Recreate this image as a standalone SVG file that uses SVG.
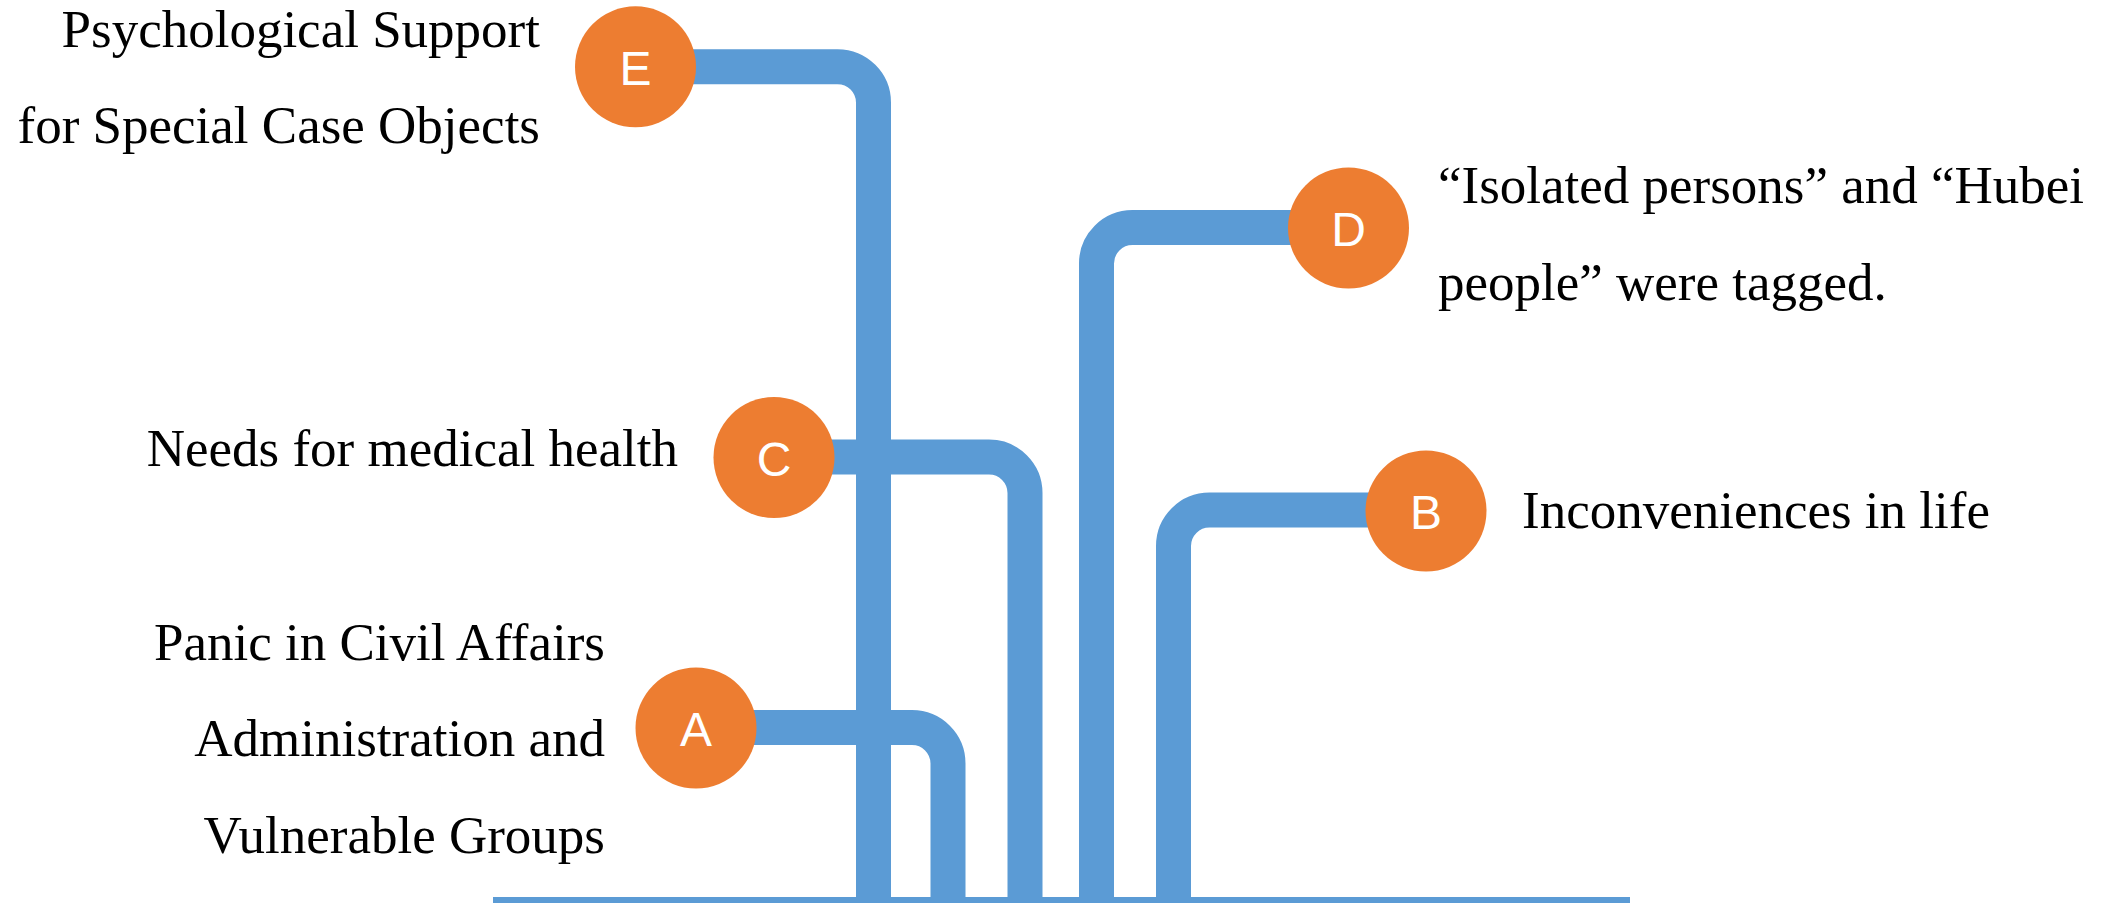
<svg xmlns="http://www.w3.org/2000/svg" width="2115" height="903" viewBox="0 0 2115 903">
<style>
.conn{fill:none;stroke:#5B9BD5;stroke-width:35;}
.base{fill:#5B9BD5;}
.dot{fill:#ED7D31;}
.let{font-family:"Liberation Sans",Arial,sans-serif;font-size:48px;fill:#FFFFFF;text-anchor:middle;}
.lab{font-family:"Liberation Serif","Times New Roman",serif;font-size:53px;fill:#000000;}
.r{text-anchor:end;}
</style>
<rect width="2115" height="903" fill="#FFFFFF"/>
<g id="connectors">
<rect class="base" x="493" y="897" width="1137" height="8"/>
<path class="conn" d="M696 727.5 H912 A36 36 0 0 1 948 763.5 V900"/>
<path class="conn" d="M1426 510 H1209.5 A36 36 0 0 0 1173.5 546 V900"/>
<path class="conn" d="M774 457 H989 A36 36 0 0 1 1025 493 V900"/>
<path class="conn" d="M1348.5 227.5 H1132.5 A36 36 0 0 0 1096.5 263.5 V900"/>
<path class="conn" d="M635.5 66.7 H837.5 A36 36 0 0 1 873.5 102.7 V900"/>
</g>
<g id="node-E">
<circle class="dot" cx="635.5" cy="66.8" r="60.5"/>
<text class="let" x="635.5" y="85">E</text>
<text class="lab r" x="540" y="46.7">Psychological Support</text>
<text class="lab r" x="540" y="142.7">for Special Case Objects</text>
</g>
<g id="node-D">
<circle class="dot" cx="1348.5" cy="228" r="60.5"/>
<text class="let" x="1348.5" y="246">D</text>
<text class="lab" x="1438" y="203">“Isolated persons” and “Hubei</text>
<text class="lab" x="1438" y="300">people” were tagged.</text>
</g>
<g id="node-C">
<circle class="dot" cx="774" cy="457.5" r="60.5"/>
<text class="let" x="774" y="475.5">C</text>
<text class="lab r" x="678" y="466">Needs for medical health</text>
</g>
<g id="node-B">
<circle class="dot" cx="1426" cy="511" r="60.5"/>
<text class="let" x="1426" y="529">B</text>
<text class="lab" x="1522" y="527.5">Inconveniences in life</text>
</g>
<g id="node-A">
<circle class="dot" cx="696" cy="728" r="60.5"/>
<text class="let" x="696" y="746">A</text>
<text class="lab r" x="605" y="660">Panic in Civil Affairs</text>
<text class="lab r" x="605" y="756">Administration and</text>
<text class="lab r" x="605" y="852.5">Vulnerable Groups</text>
</g>
</svg>
